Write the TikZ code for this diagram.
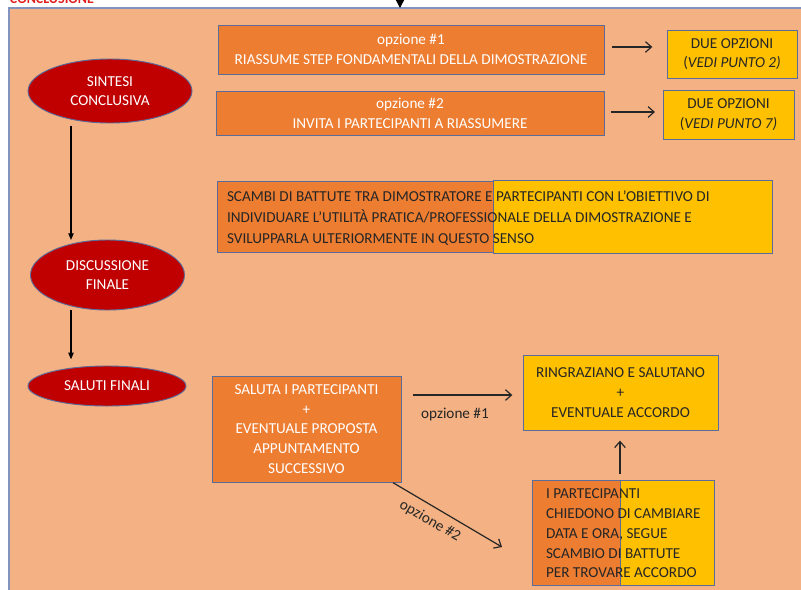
\documentclass[tikz,border=0pt]{standalone}
\usepackage{fontspec}
\setmainfont{Carlito}
\usetikzlibrary{arrows.meta,shapes.geometric}

\definecolor{panelfill}{HTML}{F4B183}
\definecolor{paneledge}{HTML}{8193BE}
\definecolor{boxedge}{HTML}{5A6C9A}
\definecolor{stepred}{HTML}{C00000}
\definecolor{actorange}{HTML}{ED7D31}
\definecolor{outyellow}{HTML}{FFC000}
\definecolor{titlered}{HTML}{E02020}
\definecolor{ink}{HTML}{262626}

\newcommand\bodyfont{\fontsize{11.4pt}{14.8pt}\selectfont}

\tikzset{
  every node/.style={font=\bodyfont, inner sep=0pt, outer sep=0pt},
  phase/.style={ellipse, draw=boxedge, fill=stepred, text=white,
                line width=0.7pt, align=center},
  actbox/.style={rectangle, draw=boxedge, fill=actorange, text=white,
                 line width=0.7pt, align=center},
  outbox/.style={rectangle, draw=boxedge, fill=outyellow, text=ink,
                 line width=0.7pt, align=center},
  flowarrow/.style={draw=black, line width=0.9pt,
                    -{Triangle[length=5pt,width=4pt]}},
  optarrow/.style={draw=ink, line width=0.9pt,
                   -{Straight Barb[length=4.5pt,width=8pt]}},
  optlabel/.style={text=ink}
}

\begin{document}
\begin{tikzpicture}[x=0.75pt,y=-0.75pt]
\useasboundingbox (0,0) rectangle (801,590);
\clip (0,0) rectangle (801,590);

% section title and incoming arrow
\node[anchor=base west, text=titlered, font=\fontsize{10.5pt}{13pt}\selectfont\bfseries]
  (title) at (10,3.5) {CONCLUSIONE};

% background panel
\node[rectangle, draw=paneledge, fill=panelfill, line width=0.9pt,
      minimum width=608.25pt, minimum height=457.5pt, anchor=north west]
  (panel) at (9,8) {};

\coordinate (incoming) at (400,-12);
\draw[draw=black, line width=0.9pt, -{Triangle[length=6pt,width=6pt]}]
  (incoming) -- (panel.north -| incoming);

% phases on the left
\node[phase, minimum width=123pt, minimum height=48pt] (sintesi) at (110,91)
  {SINTESI\\[-0.5pt]CONCLUSIVA};
\node[phase, minimum width=115.5pt, minimum height=52.5pt] (discussione) at (107.5,275)
  {DISCUSSIONE\\[-0.5pt]FINALE};
\node[phase, minimum width=118.5pt, minimum height=30pt] (saluti) at (107,386)
  {SALUTI FINALI};

\coordinate (spine) at (71,0);
\draw[flowarrow, shorten <=2pt] (sintesi.south -| spine) -- (discussione.north -| spine);
\draw[flowarrow, shorten >=5pt] (discussione.south -| spine) -- (saluti.north -| spine);

% synthesis options
\node[actbox, minimum width=289.5pt, minimum height=36.75pt] (opt1) at (411,49.5)
  {opzione \#1\\[0.2pt]RIASSUME STEP FONDAMENTALI DELLA DIMOSTRAZIONE};
\node[actbox, minimum width=291pt, minimum height=33pt] (opt2) at (410,113)
  {opzione \#2\\[0.2pt]INVITA I PARTECIPANTI A RIASSUMERE};

\node[outbox, minimum width=97.5pt, minimum height=36pt] (due1) at (732,54)
  {DUE OPZIONI\\(\textit{VEDI PUNTO 2)}};
\node[outbox, minimum width=98.25pt, minimum height=36.75pt] (due2) at (728.5,114.5)
  {DUE OPZIONI\\(\textit{VEDI PUNTO 7)}};

\draw[optarrow, shorten <=6pt, shorten >=11pt] ([yshift=1.9pt]opt1.east) -- ([yshift=1.9pt]opt1.east -| due1.west);
\draw[optarrow, shorten <=5pt, shorten >=6pt] ([yshift=0.75pt]opt2.east) -- ([yshift=0.75pt]opt2.east -| due2.west);

% final discussion
\node[rectangle, draw=boxedge, fill=actorange, line width=0.7pt,
      minimum width=207pt, minimum height=53.25pt, anchor=north west]
  (scambiL) at (217,181) {};
\node[rectangle, draw=boxedge, fill=outyellow, line width=0.7pt,
      minimum width=209.25pt, minimum height=54.75pt, anchor=north west]
  (scambiR) at (493,180) {};
\node[anchor=north west, align=left, text=ink] (scambi) at (227,191)
  {SCAMBI DI BATTUTE TRA DIMOSTRATORE E PARTECIPANTI CON L’OBIETTIVO DI\\[0.9pt]
   INDIVIDUARE L’UTILITÀ PRATICA/PROFESSIONALE DELLA DIMOSTRAZIONE E\\[0.9pt]
   SVILUPPARLA ULTERIORMENTE IN QUESTO SENSO};

% farewells
\node[actbox, minimum width=141.75pt, minimum height=79.5pt] (saluta) at (306.5,429)
  {SALUTA I PARTECIPANTI\\+\\EVENTUALE PROPOSTA\\APPUNTAMENTO\\SUCCESSIVO};
\node[outbox, minimum width=146.25pt, minimum height=56.25pt] (ringraziano) at (620.5,392.5)
  {RINGRAZIANO E SALUTANO\\+\\EVENTUALE ACCORDO};

\node[rectangle, draw=boxedge, fill=actorange, line width=0.7pt,
      minimum width=66pt, minimum height=78.75pt, anchor=north west]
  (cambioL) at (532,480) {};
\node[rectangle, draw=boxedge, fill=outyellow, line width=0.7pt,
      minimum width=70.5pt, minimum height=78.75pt, anchor=north west]
  (cambioR) at (620,480) {};
\node[anchor=north west, align=left, text=ink] (cambio) at (546,489)
  {I PARTECIPANTI\\CHIEDONO DI CAMBIARE\\DATA E ORA, SEGUE\\SCAMBIO DI BATTUTE\\PER TROVARE ACCORDO};

\draw[optarrow, shorten <=9pt, shorten >=8pt]
  ([yshift=-1.9pt]saluta.east |- ringraziano.west) -- ([yshift=-1.9pt]ringraziano.west);
\node[optlabel] (lab1) at (455,414) {opzione \#1};

\draw[optarrow, shorten <=4.5pt, shorten >=8pt] (cambioR.north west) -- (cambioR.north west |- ringraziano.south);

\coordinate (opt2end) at (502,547);
\draw[optarrow] ([xshift=-6pt,yshift=-0.5pt]saluta.south east) -- (opt2end);
\node[optlabel, rotate=-30] (lab2) at (430,521) {opzione \#2};

\end{tikzpicture}
\end{document}
